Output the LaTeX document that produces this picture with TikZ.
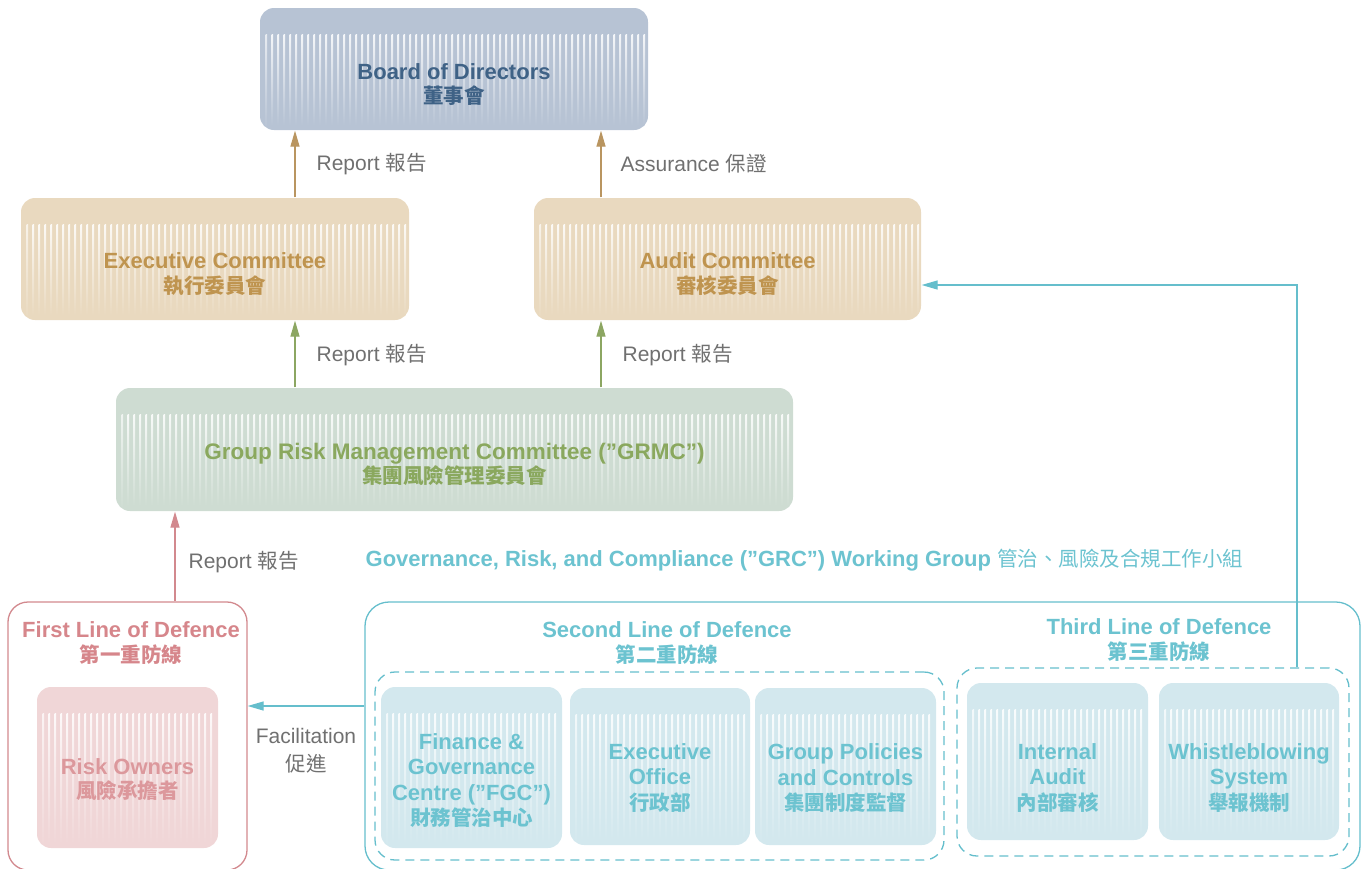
\documentclass[tikz,border=0pt]{standalone}
\usepackage{fontspec}
\setmainfont{Liberation Sans}
\newfontfamily\cjk{Noto Sans CJK TC}
\usetikzlibrary{arrows.meta}
\newcommand\zh[1]{{\cjk\fontsize{20.5}{24}\selectfont #1}}
\definecolor{boardfill}{HTML}{B7C3D4}\definecolor{boardtext}{HTML}{3F6286}
\definecolor{goldfill}{HTML}{E9D9BF}\definecolor{goldtext}{HTML}{BF944F}\definecolor{goldline}{HTML}{B99560}
\definecolor{greenfill}{HTML}{CEDCD2}\definecolor{greentext}{HTML}{8AA85E}\definecolor{greenline}{HTML}{8CA662}
\definecolor{redline}{HTML}{D2898E}\definecolor{redfill}{HTML}{F0D6D7}\definecolor{redtext}{HTML}{D6868B}
\definecolor{cyanline}{HTML}{65BECC}\definecolor{cyanfill}{HTML}{D3E8EE}\definecolor{cyantext}{HTML}{6CC3D0}
\definecolor{labelgray}{HTML}{707070}

\begin{document}
\begin{tikzpicture}[x=1pt,y=-1pt,line width=1.3pt,
  box/.style 2 args={fill=#2,rounded corners=14pt,inner sep=0,path picture={
    \foreach \k in {0,...,#1}
      \shade[top color=white!85!#2,bottom color=#2,sharp corners]
        ([xshift=5.5pt+\k*6pt,yshift=-26pt]path picture bounding box.north west)
        rectangle ([xshift=7pt+\k*6pt,yshift=5pt]path picture bounding box.south west);}},
  title/.style={font=\bfseries\fontsize{22}{24.5}\selectfont,align=center,inner sep=0},
  inbox/.style={title,text=cyantext,font=\bfseries\fontsize{22}{25.5}\selectfont},
  tag/.style={font=\fontsize{21}{28}\selectfont,text=labelgray,inner sep=0,align=center},
  up/.style={-{Triangle[length=16pt,width=9pt]},draw=#1},
  dashbox/.style={draw=cyanline,dash pattern=on 9pt off 6pt,rounded corners=20pt,inner sep=0}]
\useasboundingbox (0,0) rectangle (1365,868);
\clip (0,0) rectangle (1365,868);
% committees
\node[box={63}{boardfill},minimum width=388,minimum height=122] (board) at (454,69) {};
\node[title,text=boardtext] (board-t) at ([yshift=-15.5pt]board.center) {Board of Directors\\\zh{董事會}};
\node[box={63}{goldfill},minimum width=388,minimum height=122] (exec) at (215,259) {};
\node[title,text=goldtext] (exec-t) at ([yshift=-15pt]exec.center) {Executive Committee\\\zh{執行委員會}};
\node[box={63}{goldfill},minimum width=387,minimum height=122] (audit) at (727.5,259) {};
\node[title,text=goldtext] (audit-t) at ([yshift=-15pt]audit.center) {Audit Committee\\\zh{審核委員會}};
\node[box={111}{greenfill},minimum width=677,minimum height=123] (grmc) at (454.5,449.5) {};
\node[title,text=greentext,font=\bfseries\fontsize{22.5}{24.5}\selectfont] (grmc-t) at ([yshift=-15pt]grmc.center) {Group Risk Management Committee ("GRMC")\\\zh{集團風險管理委員會}};
% first line
\node[draw=redline,rounded corners=20pt,minimum width=239,minimum height=268,inner sep=0] (first) at (127.5,736) {};
\node[title,text=redtext] (first-t) at (131,643) {First Line of Defence\\\zh{第一重防線}};
\node[box={28}{redfill},minimum width=181,minimum height=161] (owners) at (127.5,767.5) {};
\node[title,text=redtext!85] (owners-t) at ([yshift=-12pt]owners.center) {Risk Owners\\\zh{風險承擔者}};
% GRC working group
\node[anchor=west,inner sep=0,text=cyantext,font=\fontsize{22}{24}\selectfont] (grc-t) at (365,560)
  {\textbf{Governance, Risk, and Compliance ("GRC") Working Group} \zh{管治、風險及合規工作小組}};
\node[draw=cyanline,rounded corners=24pt,minimum width=995,minimum height=268,inner sep=0] (grc) at (862.5,736) {};
\node[title,text=cyantext] (second-t) at (667,643) {Second Line of Defence\\\zh{第二重防線}};
\node[title,text=cyantext] (third-t) at (1159,640) {Third Line of Defence\\\zh{第三重防線}};
\node[dashbox,minimum width=569,minimum height=188] (dashtwo) at (659.5,766) {};
\node[dashbox,minimum width=392,minimum height=188] (dashthree) at (1153,762) {};
\node[box={28}{cyanfill},minimum width=181,minimum height=161] (fgc) at (471.5,767.5) {};
\node[inbox] (fgc-t) at ([yshift=-13pt]fgc.center) {Finance \&\\Governance\\Centre ("FGC")\\\zh{財務管治中心}};
\node[box={28}{cyanfill},minimum width=180,minimum height=157] (office) at (660,766.5) {};
\node[inbox] (office-t) at ([yshift=-11.5pt]office.center) {Executive\\Office\\\zh{行政部}};
\node[box={28}{cyanfill},minimum width=181,minimum height=157] (policies) at (845.5,766.5) {};
\node[inbox] (policies-t) at ([yshift=-11.5pt]policies.center) {Group Policies\\and Controls\\\zh{集團制度監督}};
\node[box={28}{cyanfill},minimum width=181,minimum height=157] (intaudit) at (1057.5,761.5) {};
\node[inbox] (intaudit-t) at ([yshift=-16.5pt]intaudit.center) {Internal\\Audit\\\zh{內部審核}};
\node[box={28}{cyanfill},minimum width=180,minimum height=157] (whistle) at (1249,761.5) {};
\node[inbox] (whistle-t) at ([yshift=-16.5pt]whistle.center) {Whistleblowing\\System\\\zh{舉報機制}};
% connectors
\coordinate (lx) at (295,0);\coordinate (rx) at (601,0);\coordinate (fx) at (175,0);
\coordinate (fy) at (0,706);\coordinate (wx) at (1297,285);
\draw[up=goldline] (exec.north -| lx) -- node[tag,right=21pt] (rep1) {Report \zh{報告}} (board.south -| lx);
\draw[up=goldline] (audit.north -| rx) -- node[tag,right=19pt] (assure) {Assurance \zh{保證}} (board.south -| rx);
\draw[up=greenline] (grmc.north -| lx) -- node[tag,right=21pt,yshift=-1.5pt] (rep2) {Report \zh{報告}} (exec.south -| lx);
\draw[up=greenline] (grmc.north -| rx) -- node[tag,right=21pt,yshift=-1.5pt] (rep3) {Report \zh{報告}} (audit.south -| rx);
\draw[up=redline] (first.north -| fx) -- node[tag,right=13pt,yshift=-5.5pt] (rep4) {Report \zh{報告}} (grmc.south -| fx);
\draw[up=cyanline] (grc.west |- fy) -- node[tag,below=22pt] (facil) {Facilitation\\\zh{促進}} (first.east |- fy);
\draw[up=cyanline] (dashthree.north -| wx) -- (wx) -- (audit.east |- wx);
\end{tikzpicture}
\end{document}
